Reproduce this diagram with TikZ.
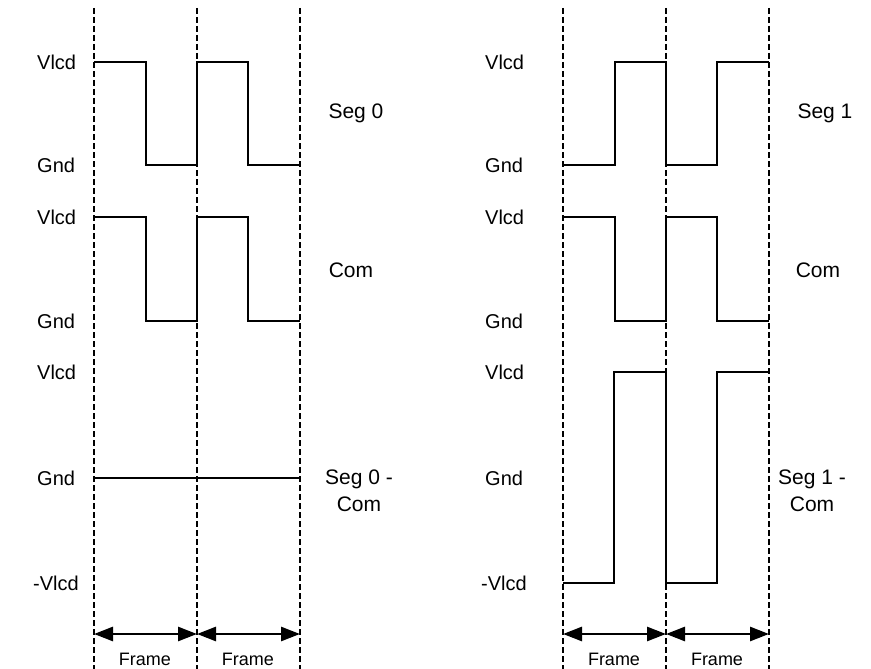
\documentclass[tikz,border=0pt]{standalone}
\usepackage{fontspec}
\setmainfont{Liberation Sans}
\usetikzlibrary{arrows.meta,positioning}

\begin{document}
\begin{tikzpicture}[x=1pt,y=-1pt,>={Triangle[length=19pt,width=14pt]}]

    \tikzstyle{levelName}=[font=\fontsize{20}{22}\selectfont, anchor=west, inner sep=0pt]
    \tikzstyle{signalName}=[font=\fontsize{21}{27}\selectfont, align=center, inner sep=0pt]
    \tikzstyle{frameName}=[font=\fontsize{18}{20}\selectfont, inner sep=0pt]
    \tikzstyle{boundary}=[line width=2.6pt, dash pattern=on 6pt off 3pt]
    \tikzstyle{wave}=[line width=2.7pt, line join=miter]
    \tikzstyle{span}=[<->, line width=2.7pt]

    \useasboundingbox (0,0) rectangle (871,669);

    % Levels of the three traces
    \def \vSeg {62}
    \def \gSeg {165}
    \def \vCom {217}
    \def \gCom {321}
    \def \vDif {372}
    \def \gDif {478}
    \def \nDif {583}
    \def \arrowY {634}

    % Frame boundaries
    \foreach \x [count=\i] in {94, 197, 300, 563, 666, 769} {
        \coordinate (T\i) at (\x, 8);
        \coordinate (B\i) at (\x, 669);
        \coordinate (A\i) at (\x, \arrowY);
        \draw [boundary] (T\i) -- (B\i);
    }

    % Left: level names
    \node at (37, \vSeg) [levelName] (LV1) {Vlcd};
    \node at (37, \gSeg) [levelName] (LG1) {Gnd};
    \node at (37, \vCom) [levelName] (LV2) {Vlcd};
    \node at (37, \gCom) [levelName] (LG2) {Gnd};
    \node at (37, \vDif) [levelName] (LV3) {Vlcd};
    \node at (37, \gDif) [levelName] (LG3) {Gnd};
    \node at (33, \nDif) [levelName] (LN3) {-Vlcd};

    % Left: signal names
    \node at (356, 113) [signalName] (S0)    {Seg 0};
    \node at (351, 270) [signalName] (C0)    {Com};
    \node at (359, 491) [signalName] (D0)    {Seg 0 -\\Com};

    % Left: traces
    \draw [wave] (94,\vSeg) -- (146,\vSeg) -- (146,\gSeg) -- (197,\gSeg) -- (197,\vSeg)
                 -- (248,\vSeg) -- (248,\gSeg) -- (300,\gSeg);
    \draw [wave] (94,\vCom) -- (146,\vCom) -- (146,\gCom) -- (197,\gCom) -- (197,\vCom)
                 -- (248,\vCom) -- (248,\gCom) -- (300,\gCom);
    \draw [wave] (94,\gDif) -- (300,\gDif);

    % Right: level names
    \node at (485, \vSeg) [levelName] (RV1) {Vlcd};
    \node at (485, \gSeg) [levelName] (RG1) {Gnd};
    \node at (485, \vCom) [levelName] (RV2) {Vlcd};
    \node at (485, \gCom) [levelName] (RG2) {Gnd};
    \node at (485, \vDif) [levelName] (RV3) {Vlcd};
    \node at (485, \gDif) [levelName] (RG3) {Gnd};
    \node at (481, \nDif) [levelName] (RN3) {-Vlcd};

    % Right: signal names
    \node at (825, 113) [signalName] (S1)    {Seg 1};
    \node at (818, 270) [signalName] (C1)    {Com};
    \node at (812, 491) [signalName] (D1)    {Seg 1 -\\Com};

    % Right: traces
    \draw [wave] (563,\gSeg) -- (615,\gSeg) -- (615,\vSeg) -- (666,\vSeg) -- (666,\gSeg)
                 -- (717,\gSeg) -- (717,\vSeg) -- (769,\vSeg);
    \draw [wave] (563,\vCom) -- (615,\vCom) -- (615,\gCom) -- (666,\gCom) -- (666,\vCom)
                 -- (717,\vCom) -- (717,\gCom) -- (769,\gCom);
    \draw [wave] (563,\nDif) -- (614,\nDif) -- (614,\vDif) -- (666,\vDif) -- (666,\nDif)
                 -- (717,\nDif) -- (717,\vDif) -- (769,\vDif);

    % Frame spans
    \draw [span] (A1) -- (A2);
    \draw [span] (A2) -- (A3);
    \draw [span] (A4) -- (A5);
    \draw [span] (A5) -- (A6);
    \node at (145, 659) [frameName] (F1) {Frame};
    \node at (248, 659) [frameName] (F2) {Frame};
    \node at (614, 659) [frameName] (F3) {Frame};
    \node at (717, 659) [frameName] (F4) {Frame};

\end{tikzpicture}
\end{document}
